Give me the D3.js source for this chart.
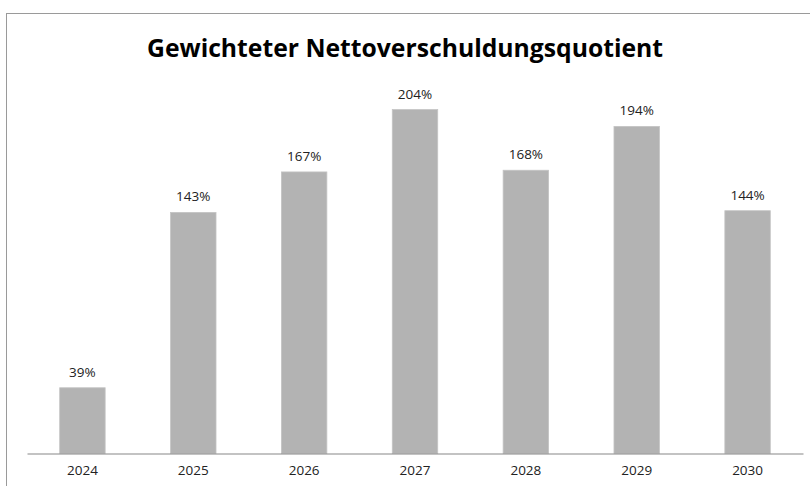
<!DOCTYPE html>
<html>
<head>
<meta charset="utf-8">
<title>Gewichteter Nettoverschuldungsquotient</title>
<script src="https://cdn.jsdelivr.net/npm/d3@7/dist/d3.min.js"></script>
<style>
  body { margin: 0; background: #fff; }
  svg { display: block; font-family: "Open Sans", "Noto Sans", sans-serif; }
</style>
</head>
<body>
<script>
// Daten
var years = ["2024", "2025", "2026", "2027", "2028", "2029", "2030"];
var ratios = [39, 143, 167, 204, 168, 194, 144];
var title = "Gewichteter Nettoverschuldungsquotient";

var width = 810, height = 486;
var svg = d3.select("body").append("svg")
    .attr("width", width)
    .attr("height", height);

// Rahmen (läuft rechts und unten aus dem Bild)
svg.append("rect")
    .attr("x", 6.5).attr("y", 13.5)
    .attr("width", 820).attr("height", 490)
    .attr("fill", "none")
    .attr("stroke", "#9a9a9a")
    .attr("stroke-width", 1);

svg.append("text")
    .attr("x", 405).attr("y", 57)
    .attr("text-anchor", "middle")
    .attr("font-size", 25)
    .attr("font-weight", "bold")
    .attr("fill", "#000")
    .attr("textLength", 516)
    .attr("lengthAdjust", "spacingAndGlyphs")
    .text(title);

var x = d3.scaleBand()
    .domain(years)
    .range([27, 803])
    .paddingInner(0.59)
    .paddingOuter(0.295);

var y = d3.scaleLinear()
    .domain([0, 250])
    .range([453.5, 32]);

var g = svg.append("g");

g.selectAll("rect.bar")
    .data(years).enter().append("rect")
    .attr("class", "bar")
    .attr("x", function (d) { return x(d); })
    .attr("width", x.bandwidth())
    .attr("y", function (d, i) { return y(ratios[i]); })
    .attr("height", function (d, i) { return y(0) - y(ratios[i]); })
    .attr("fill", "#b3b3b3")
    .attr("stroke", "#c4c4c4")
    .attr("stroke-width", 0.8);

g.selectAll("text.val")
    .data(years).enter().append("text")
    .attr("class", "val")
    .attr("x", function (d) { return x(d) + x.bandwidth() / 2; })
    .attr("y", function (d, i) { return y(ratios[i]) - 11; })
    .attr("text-anchor", "middle")
    .attr("font-size", 13.5)
    .attr("fill", "#222")
    .text(function (d, i) { return ratios[i] + "%"; });

// x-Achse
var axis = svg.append("g")
    .attr("transform", "translate(0," + y(0) + ")")
    .call(d3.axisBottom(x).tickSize(0).tickPadding(12));
axis.select(".domain").attr("stroke", "#888").attr("stroke-width", 1.2);
axis.selectAll("text")
    .attr("font-size", 13.5)
    .attr("fill", "#222")
    .attr("font-family", "\"Open Sans\", \"Noto Sans\", sans-serif");
</script>
</body>
</html>
